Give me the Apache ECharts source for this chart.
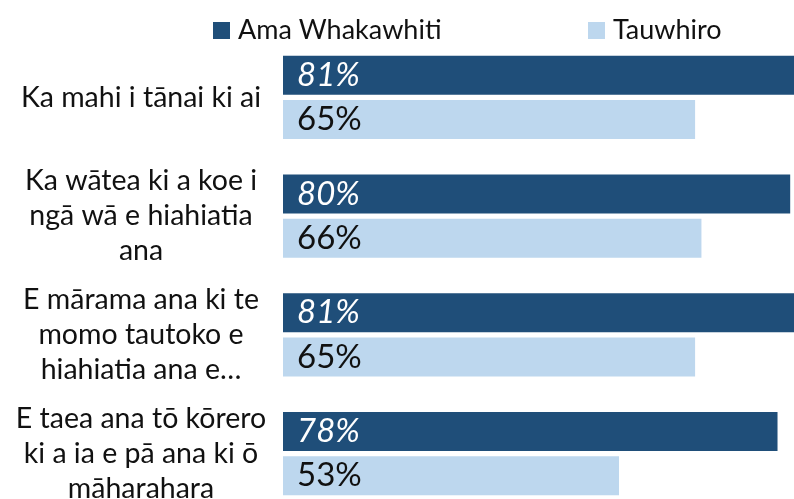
<!DOCTYPE html>
<html>
<head>
<meta charset="utf-8">
<script src="https://cdn.jsdelivr.net/npm/echarts@6/dist/echarts.min.js"></script>
<style>
  html, body { margin: 0; padding: 0; background: #fff; }
  #chart { width: 794px; height: 499px; }
</style>
</head>
<body>
<div id="chart"></div>
<script>
var categories = [
  'Ka mahi i tānai ki ai',
  'Ka wātea ki a koe i\nngā wā e hiahiatia\nana',
  'E mārama ana ki te\nmomo tautoko e\nhiahiatia ana e…',
  'E taea ana tō kōrero\nki a ia e pā ana ki ō\nmāharahara'
]
var seriesNames = ['Ama Whakawhiti', 'Tauwhiro']
var amaValues = [81, 80, 81, 78]
var tauValues = [65, 66, 65, 53]

var colors = ['#1f4e79', '#bdd7ee']
var font = 'Lato'

var myChart = echarts.init(document.getElementById('chart'))

function legendFor(name, left) {
  return {
    data: [name],
    top: 12,
    left: left,
    icon: 'rect',
    itemWidth: 17,
    itemHeight: 17,
    textStyle: {
      fontFamily: font,
      fontSize: 27,
      color: '#111',
      padding: [0, 0, 0, 3]
    }
  }
}

var option = {
  animation: false,
  color: colors,
  legend: [legendFor(seriesNames[0], 208), legendFor(seriesNames[1], 583)],
  // grid runs past the right and bottom edges, as in the original crop
  grid: {
    left: 283,
    top: 38,
    width: 634,
    height: 475,
    outerBoundsMode: 'none',
    containLabel: false
  },
  xAxis: {
    type: 'value',
    min: 0,
    max: 100,
    show: false
  },
  yAxis: {
    type: 'category',
    data: categories,
    inverse: true,
    axisLine: { show: false },
    axisTick: { show: false },
    axisLabel: {
      margin: 142,
      align: 'center',
      fontFamily: font,
      fontSize: 28.5,
      lineHeight: 35,
      color: '#111'
    }
  },
  series: [
    {
      name: seriesNames[0],
      type: 'bar',
      data: amaValues,
      barWidth: 39,
      barGap: '13%',
      label: {
        show: true,
        position: 'insideLeft',
        distance: 14,
        formatter: '{c}%',
        fontFamily: font,
        fontStyle: 'italic',
        fontSize: 33,
        color: '#fff'
      }
    },
    {
      name: seriesNames[1],
      type: 'bar',
      data: tauValues,
      barWidth: 39,
      barGap: '13%',
      label: {
        show: true,
        position: 'insideLeft',
        distance: 14,
        formatter: '{c}%',
        fontFamily: font,
        fontSize: 33,
        color: '#111'
      }
    }
  ]
}

myChart.setOption(option)
</script>
</body>
</html>
